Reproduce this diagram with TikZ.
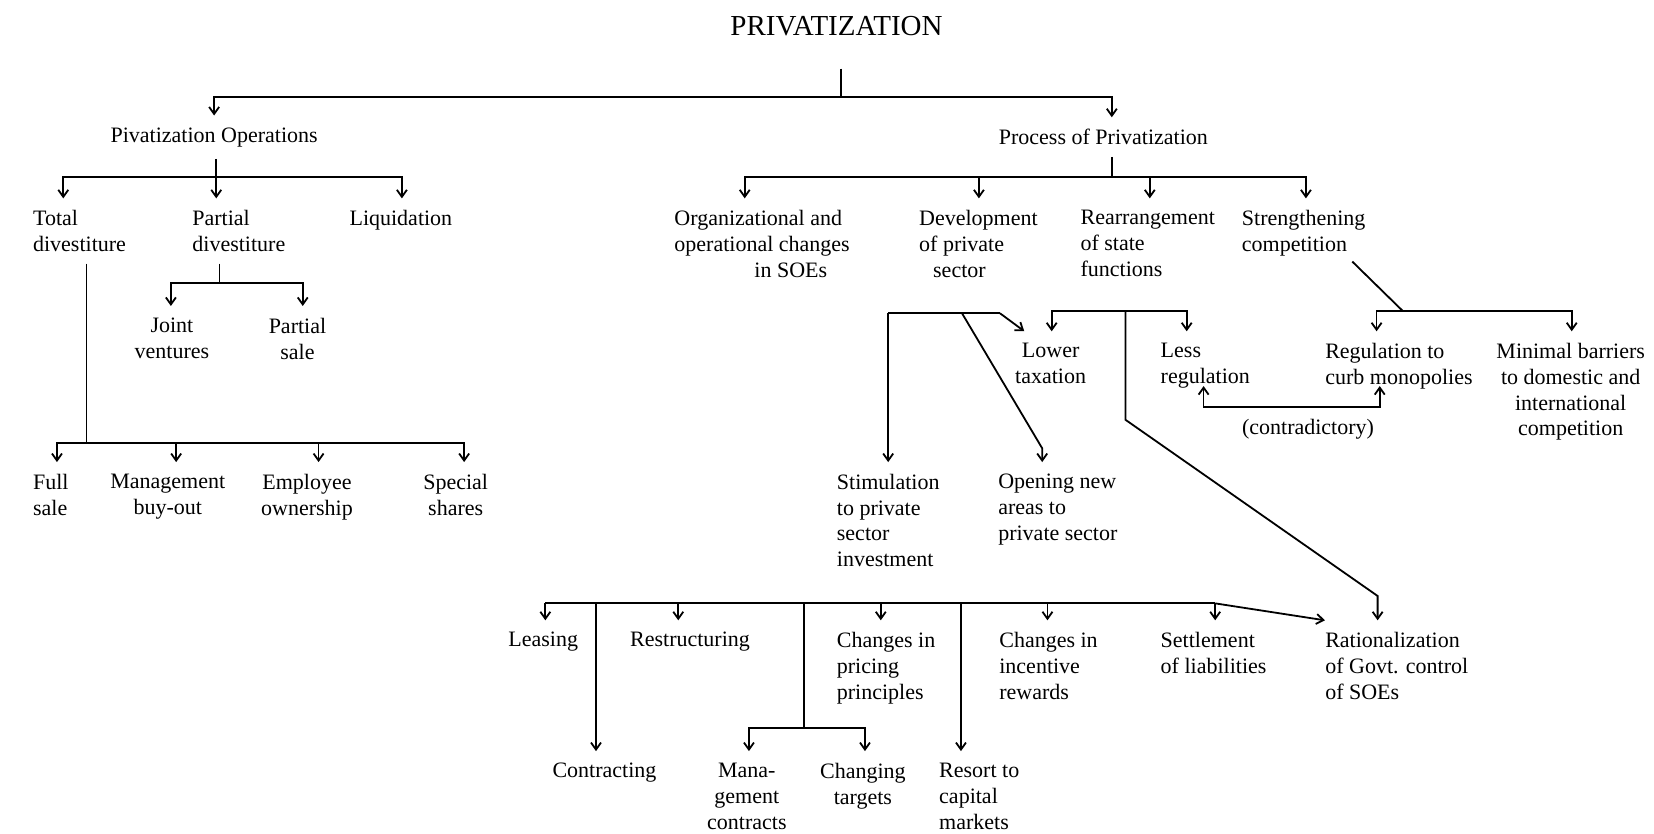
\documentclass[tikz,border=0pt]{standalone}
\usepackage{fontspec}
\setmainfont{Liberation Serif}
\usetikzlibrary{arrows.meta}
\begin{document}
\begin{tikzpicture}[x=0.5274pt,y=-0.5274pt]
\tikzset{
  every node/.style={font=\fontsize{11}{12.9}\selectfont},
  txtL/.style={inner sep=0pt, outer ysep=6pt, align=left, anchor=north west, yshift=6.3pt},
  txtC/.style={inner sep=0pt, outer ysep=6pt, align=center, anchor=north, yshift=6.3pt},
  ln/.style={line width=0.9pt},
  arr/.style={ln, -{Straight Barb[length=3.5pt,width=5pt]}},
}
\useasboundingbox (0,0) rectangle (1568,790);
% ---------- nodes ----------
\node[font=\fontsize{14.5}{17}\selectfont, inner sep=0pt] (title) at (793,25) {PRIVATIZATION};
\node[inner sep=0pt, outer ysep=6pt] (po) at (203,130) {Pivatization Operations};
\node[inner sep=0pt, outer ysep=6pt] (pp) at (1046,130) {Process of Privatization};
% left branch
\node[txtL] (tot) at (31,200) {Total\\divestiture};
\node[txtL] (pd) at (182,200) {Partial\\divestiture};
\node[txtL] (liq) at (331,200) {Liquidation};
\node[txtC] (jv) at (163,302) {Joint\\ventures};
\node[txtC] (ps) at (282,302) {Partial\\sale};
\node[txtL] (fs) at (31,450) {Full\\sale};
\node[txtC] (mbo) at (159,450) {Management\\buy-out};
\node[txtC] (eo) at (291,450) {Employee\\ownership};
\node[txtC] (ss) at (432,450) {Special\\shares};
% right branch
\node[txtL] (org) at (639,200) {Organizational and\\operational changes\\\hspace*{40pt}in SOEs};
\node[txtL] (dev) at (871,200) {Development\\of private\\\hspace*{7pt}sector};
\node[txtL] (rear) at (1024,200) {Rearrangement\\of state\\functions};
\node[txtL] (str) at (1177,200) {Strengthening\\competition};
\node[txtC] (lt) at (996,326) {Lower\\taxation};
\node[txtL] (lr) at (1100,326) {Less\\regulation};
\node[txtL] (rcm) at (1256,326) {Regulation to\\curb monopolies};
\node[txtC] (mb) at (1489,326) {Minimal barriers\\to domestic and\\international\\competition};
\node[inner sep=0pt] (contra) at (1240,407) {(contradictory)};
\node[txtL] (stim) at (793,450) {Stimulation\\to private\\sector\\investment};
\node[txtL] (open) at (946,450) {Opening new\\areas to\\private sector};
% bottom
\node[txtC] (leas) at (515,600) {Leasing};
\node[txtL] (restr) at (597,600) {Restructuring};
\node[txtL] (cpp) at (793,600) {Changes in\\pricing\\principles};
\node[txtL] (cir) at (947,600) {Changes in\\incentive\\rewards};
\node[txtL] (sol) at (1100,600) {Settlement\\of liabilities};
\node[txtL] (rat) at (1256,600) {Rationalization\\of Govt. control\\of SOEs};
\node[txtC] (con) at (573,724) {Contracting};
\node[txtC] (mc) at (708,724) {Mana-\\gement\\contracts};
\node[txtC] (ct) at (818,724) {Changing\\targets};
\node[txtL] (rcap) at (890,724) {Resort to\\capital\\markets};
% ---------- connectors ----------
% top
\coordinate (t0) at (797,65);
\coordinate (j0) at (797,92);
\draw[ln] (t0) -- (j0);
\draw[arr] (j0) -| (po.north -| 203,0);
\draw[arr] (j0) -| (pp.north -| 1054,0);
% privatization operations
\coordinate (j1) at (205,168);
\draw[ln] (po.south -| j1) -- (j1);
\draw[arr] (j1) -| (tot.north -| 60,0);
\draw[arr] (j1) -- (pd.north -| j1);
\draw[arr] (j1) -| (liq.north -| 381,0);
% partial divestiture
\coordinate (j2) at (208,268);
\draw[ln] (pd.south -| j2) -- (j2);
\draw[arr] (j2) -| (jv.north -| 162,0);
\draw[arr] (j2) -| (ps.north -| 287,0);
% total divestiture
\coordinate (j3) at (82,420);
\draw[ln] (tot.south -| j3) -- (j3);
\draw[arr] (j3) -| (fs.north -| 54,0);
\draw[arr] (j3) -| (mbo.north -| 167,0);
\draw[arr] (j3) -| (eo.north -| 302,0);
\draw[arr] (j3) -| (ss.north -| 440,0);
% process of privatization
\coordinate (j4) at (1054,168);
\draw[ln] (pp.south -| j4) -- (j4);
\draw[arr] (j4) -| (org.north -| 706,0);
\draw[arr] (j4) -| (dev.north -| 928,0);
\draw[arr] (j4) -| (rear.north -| 1090,0);
\draw[arr] (j4) -| (str.north -| 1238,0);
% strengthening competition
\coordinate (s0) at (1282,248);
\coordinate (j5) at (1330,295);
\draw[ln] (s0) -- (j5);
\draw[arr] (j5) -| (rcm.north -| 1305,0);
\draw[arr] (j5) -| (mb.north -| 1490,0);
% rearrangement of state functions
\coordinate (j6) at (1067,295);
\coordinate (r1) at (1067,398);
\coordinate (r2) at (1306,565);
\draw[arr] (j6) -| (lt.north -| 997,0);
\draw[arr] (j6) -| (lr.north -| 1125,0);
\draw[arr] (j6) -- (r1) -- (r2) -- (rat.north -| r2);
% development of private sector
\coordinate (d0) at (842,297);
\coordinate (d1) at (912,297);
\coordinate (d2) at (948,297);
\coordinate (d3) at (988,425);
\coordinate (ltw) at (971,314);
\draw[ln] (d0) -- (d2);
\draw[arr] (d2) -- (ltw);
\draw[arr] (d0) -- (stim.north -| d0);
\draw[arr] (d1) -- (d3) -- (open.north -| d3);
% contradictory
\coordinate (c0) at (1141,366);
\coordinate (c1) at (1141,386);
\coordinate (c2) at (1308,386);
\coordinate (c3) at (1308,366);
\draw[ln, {Straight Barb[length=3.5pt,width=5pt]}-{Straight Barb[length=3.5pt,width=5pt]}]
  (c0) -- (c1) -- (c2) -- (c3);
% bottom group
\coordinate (b0) at (517,572);
\coordinate (b1) at (1152,572);
\draw[ln] (b0) -- (b1);
\draw[arr] (b0) -- (leas.north -| b0);
\draw[arr] (643,572) -- (restr.north -| 643,0);
\draw[arr] (835,572) -- (cpp.north -| 835,0);
\draw[arr] (993,572) -- (cir.north -| 993,0);
\draw[arr] (b1) -- (sol.north -| b1);
\draw[arr] (b1) -- (rat.north west);
\draw[arr] (565,572) -- (con.north -| 565,0);
\coordinate (m0) at (762,572);
\coordinate (m1) at (762,690);
\draw[ln] (m0) -- (m1);
\draw[arr] (m1) -| (mc.north -| 710,0);
\draw[arr] (m1) -| (ct.north -| 820,0);
\draw[arr] (911,572) -- (rcap.north -| 911,0);
\end{tikzpicture}
\end{document}
